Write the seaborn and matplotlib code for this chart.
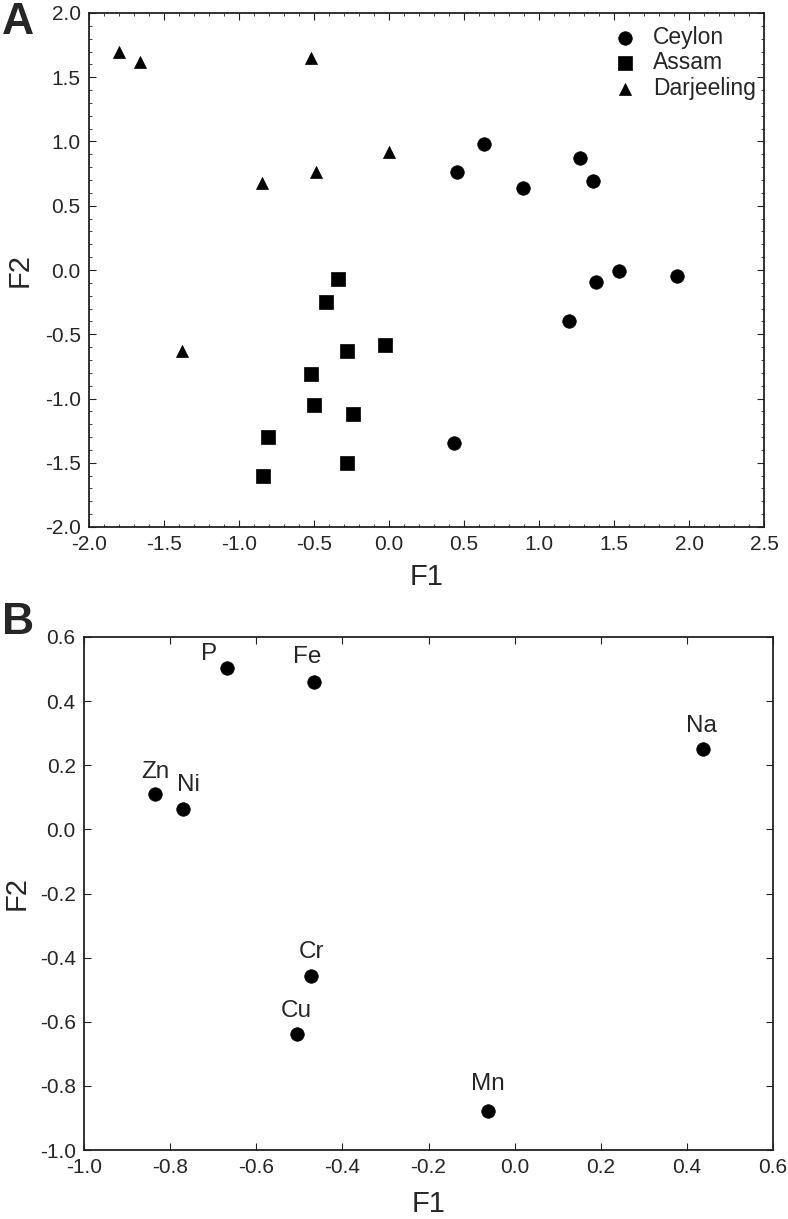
import numpy as np
import pandas as pd
import seaborn as sns
import matplotlib.pyplot as plt
from matplotlib.ticker import MultipleLocator

# panel A: sample scores
ceylon_f1 = [0.45, 0.63, 0.89, 1.27, 1.36, 1.38, 1.53, 1.92, 1.20, 0.43]
ceylon_f2 = [0.76, 0.98, 0.64, 0.87, 0.69, -0.09, -0.01, -0.05, -0.40, -1.35]
assam_f1 = [-0.34, -0.42, -0.28, -0.03, -0.52, -0.50, -0.24, -0.81, -0.84, -0.28]
assam_f2 = [-0.07, -0.25, -0.63, -0.58, -0.81, -1.05, -1.12, -1.30, -1.60, -1.50]
darj_f1 = [-1.80, -1.66, -0.52, 0.00, -0.49, -0.85, -1.38]
darj_f2 = [1.70, 1.62, 1.65, 0.92, 0.76, 0.68, -0.63]
groups = ["Ceylon", "Assam", "Darjeeling"]

# panel B: element loadings
elements = ["P", "Fe", "Zn", "Ni", "Na", "Cr", "Cu", "Mn"]
load_f1 = [-0.667, -0.467, -0.834, -0.771, 0.437, -0.474, -0.506, -0.061]
load_f2 = [0.502, 0.461, 0.110, 0.063, 0.250, -0.457, -0.639, -0.878]
# label offsets in pixels (dx, dy)
label_off = [(-18, 14), (-6, 25), (0, 22), (6, 24), (-1, 23), (1, 24), (0, 23), (0, 27)]

scores = pd.DataFrame({
    "F1": ceylon_f1 + assam_f1 + darj_f1,
    "F2": ceylon_f2 + assam_f2 + darj_f2,
    "group": ["Ceylon"] * len(ceylon_f1) + ["Assam"] * len(assam_f1)
    + ["Darjeeling"] * len(darj_f1),
})
loadings = pd.DataFrame({"F1": load_f1, "F2": load_f2, "element": elements})

sns.set_style("ticks")
plt.rcParams["font.family"] = ["Liberation Sans", "DejaVu Sans"]

fig = plt.figure(figsize=(7.88, 12.19), dpi=100)
ax_a = fig.add_axes([89 / 788, 1 - 527 / 1219, 675 / 788, 514 / 1219])
ax_b = fig.add_axes([84 / 788, 1 - 1150 / 1219, 689 / 788, 513 / 1219])

# --- panel A ---
markers = {"Ceylon": "o", "Assam": "s", "Darjeeling": "^"}
sizes = {"Ceylon": 95, "Assam": 100, "Darjeeling": 75}
for g in groups:
    sub = scores[scores["group"] == g]
    sns.scatterplot(data=sub, x="F1", y="F2", marker=markers[g], s=sizes[g],
                    color="black", edgecolor="black", linewidth=0.5,
                    label=g, ax=ax_a)
ax_a.set_xlim(-2.0, 2.5)
ax_a.set_ylim(-2.0, 2.0)
ax_a.xaxis.set_major_locator(MultipleLocator(0.5))
ax_a.yaxis.set_major_locator(MultipleLocator(0.5))
ax_a.xaxis.set_minor_locator(MultipleLocator(0.1))
ax_a.yaxis.set_minor_locator(MultipleLocator(0.1))
ax_a.xaxis.set_major_formatter(lambda v, p: f"{v:.1f}")
ax_a.yaxis.set_major_formatter(lambda v, p: f"{v:.1f}")
ax_a.tick_params(which="both", direction="in", top=True, right=True,
                 labelsize=15, color="#222222")
ax_a.tick_params(which="major", length=5, pad=6)
ax_a.tick_params(which="minor", length=2.5)
leg = ax_a.legend(loc="upper right", frameon=False, fontsize=16.5,
                  handletextpad=0.2, labelspacing=0.1,
                  bbox_to_anchor=(1.015, 1.01), borderaxespad=0.4)

# --- panel B ---
sns.scatterplot(data=loadings, x="F1", y="F2", marker="o", s=95,
                color="black", edgecolor="black", linewidth=0.5, ax=ax_b)
for (name, x, y), (dx, dy) in zip(zip(elements, load_f1, load_f2), label_off):
    ax_b.annotate(name, (x, y), xytext=(dx, dy), textcoords="offset pixels",
                  ha="center", va="center", fontsize=17.5)
ax_b.set_xlim(-1.0, 0.6)
ax_b.set_ylim(-1.0, 0.6)
ax_b.xaxis.set_major_locator(MultipleLocator(0.2))
ax_b.yaxis.set_major_locator(MultipleLocator(0.2))
ax_b.xaxis.set_major_formatter(lambda v, p: f"{v:.1f}")
ax_b.yaxis.set_major_formatter(lambda v, p: f"{v:.1f}")
ax_b.tick_params(direction="in", top=True, right=True, labelsize=15,
                 length=5, pad=6, color="#222222")

for ax in (ax_a, ax_b):
    for sp in ax.spines.values():
        sp.set_linewidth(1.3)
        sp.set_color("#222222")
    ax.set_xlabel("F1", fontsize=21)
    ax.set_ylabel("F2", fontsize=21)

ax_a.xaxis.set_label_coords(0.5, -0.07)
ax_a.yaxis.set_label_coords(-0.082, 0.5)
ax_b.xaxis.set_label_coords(0.5, -0.078)
ax_b.yaxis.set_label_coords(-0.078, 0.5)

fig.text(2 / 788, 1 - 22 / 1219, "A", fontsize=32, fontweight="bold",
         ha="left", va="center")
fig.text(2 / 788, 1 - 622 / 1219, "B", fontsize=32, fontweight="bold",
         ha="left", va="center")

fig.savefig("out.png", dpi=100)
